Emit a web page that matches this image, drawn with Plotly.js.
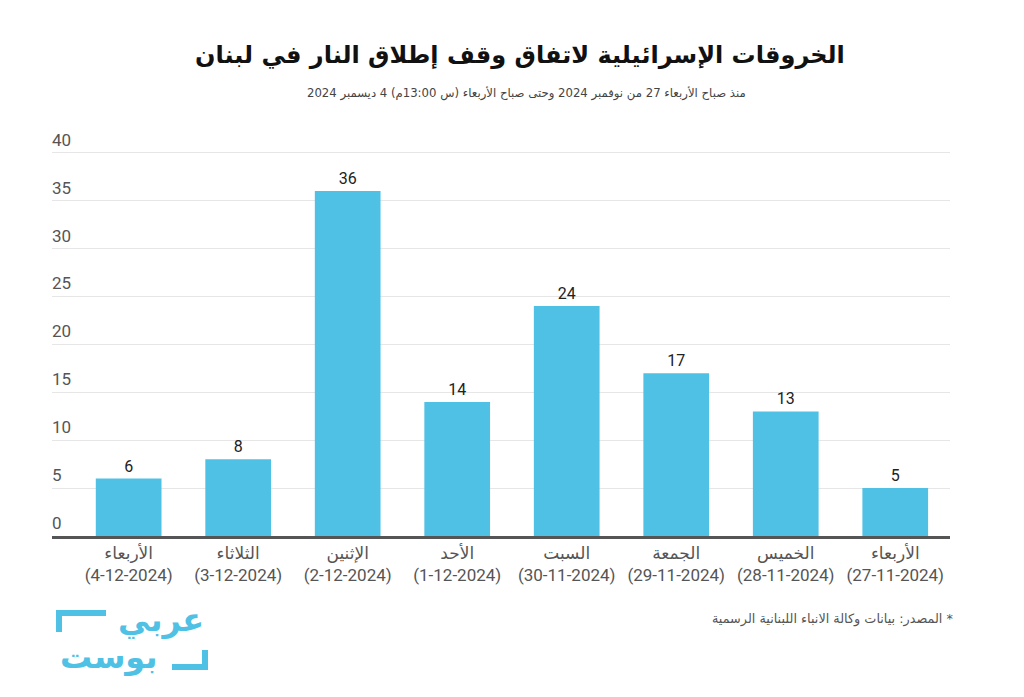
<!DOCTYPE html>
<html><head><meta charset="utf-8">
<script src="https://cdn.plot.ly/plotly-3.0.1.min.js"></script>
<style>html,body{margin:0;padding:0;background:#fff}#c{width:1024px;height:697px}</style>
</head><body><div id="c"></div>
<script>
const dayNames = ["الأربعاء","الخميس","الجمعة","السبت","الأحد","الإثنين","الثلاثاء","الأربعاء"];
const dates = ["27-11-2024","28-11-2024","29-11-2024","30-11-2024","1-12-2024","2-12-2024","3-12-2024","4-12-2024"];
const violations = [5, 13, 17, 24, 14, 36, 8, 6];
const yTicks = [0,5,10,15,20,25,30,35,40];

const labels = dayNames.map((d,i)=> d + "<br>(" + dates[i] + ")");
const font = "Roboto, 'DejaVu Sans', sans-serif";

const trace = {
  type:'bar', x: labels, y: violations,
  marker:{color:'#4fc1e5'}, width:0.6,
  text: violations.map(String), textposition:'outside', cliponaxis:false,
  textfont:{family:font, size:16, color:'#222'},
  hoverinfo:'none'
};

const plotL=52, plotW=1024-52-74, plotT=148, plotH=697-148-161;
function px(x){return (x-plotL)/plotW;}
function py(y){return (plotT+plotH-y)/plotH;}

const tickAnnots = yTicks.map(v => ({
  xref:'paper', yref:'y', x:0, y:v, xanchor:'left', yanchor:'bottom', showarrow:false,
  text:String(v), xshift:-2, yshift:1,
  font:{family:font, size:17, color:'#555'}
}));

const layout = {
  width:1024, height:697,
  margin:{l:plotL, r:74, t:plotT, b:161},
  paper_bgcolor:'#fff', plot_bgcolor:'#fff',
  showlegend:false,
  xaxis:{
    type:'category', range:[7.7,-0.5],
    showline:true, linecolor:'#555', linewidth:2.5,
    ticks:'', showgrid:false,
    tickfont:{family:font, size:17, color:'#555'},
    fixedrange:true
  },
  yaxis:{
    range:[0,40.5], tickvals:yTicks, showticklabels:false,
    gridcolor:'#e6e6e6', gridwidth:1, zeroline:false, showline:false, ticks:'',
    fixedrange:true
  },
  annotations:[
    {xref:'paper', yref:'paper', x:px(520), y:py(55), xanchor:'center', yanchor:'middle', showarrow:false,
     text:'<b>الخروقات الإسرائيلية لاتفاق وقف إطلاق النار في لبنان</b>',
     font:{family:"'DejaVu Sans', sans-serif", size:24, color:'#111'}},
    {xref:'paper', yref:'paper', x:px(526), y:py(93), xanchor:'center', yanchor:'middle', showarrow:false,
     text:'منذ صباح الأربعاء 27 من نوفمبر 2024 وحتى صباح الأربعاء (س 13:00م) 4 ديسمبر 2024',
     font:{family:"'DejaVu Sans', sans-serif", size:11.7, color:'#444'}},
    {xref:'paper', yref:'paper', x:px(955), y:py(619), xanchor:'right', yanchor:'middle', showarrow:false,
     text:'المصدر: بيانات وكالة الانباء اللبنانية الرسمية *',
     font:{family:"'DejaVu Sans', sans-serif", size:12.8, color:'#555'}},
    {xref:'paper', yref:'paper', x:px(116), y:py(620), xanchor:'left', yanchor:'middle', showarrow:false,
     text:'<b>عربي</b>', font:{family:"'DejaVu Sans', sans-serif", size:32, color:'#4fc1e5'}},
    {xref:'paper', yref:'paper', x:px(58), y:py(657), xanchor:'left', yanchor:'middle', showarrow:false,
     text:'<b>بوست</b>', font:{family:"'DejaVu Sans', sans-serif", size:32, color:'#4fc1e5'}}
  ].concat(tickAnnots),
  shapes:[
    {type:'path', xref:'paper', yref:'paper', path:
      'M '+px(106)+' '+py(613)+' L '+px(59)+' '+py(613)+' L '+px(59)+' '+py(632),
     line:{color:'#4fc1e5', width:6}},
    {type:'path', xref:'paper', yref:'paper', path:
      'M '+px(172)+' '+py(667)+' L '+px(205)+' '+py(667)+' L '+px(205)+' '+py(650),
     line:{color:'#4fc1e5', width:6}}
  ]
};

Plotly.newPlot('c',[trace],layout,{displayModeBar:false, staticPlot:true});
</script></body></html>
